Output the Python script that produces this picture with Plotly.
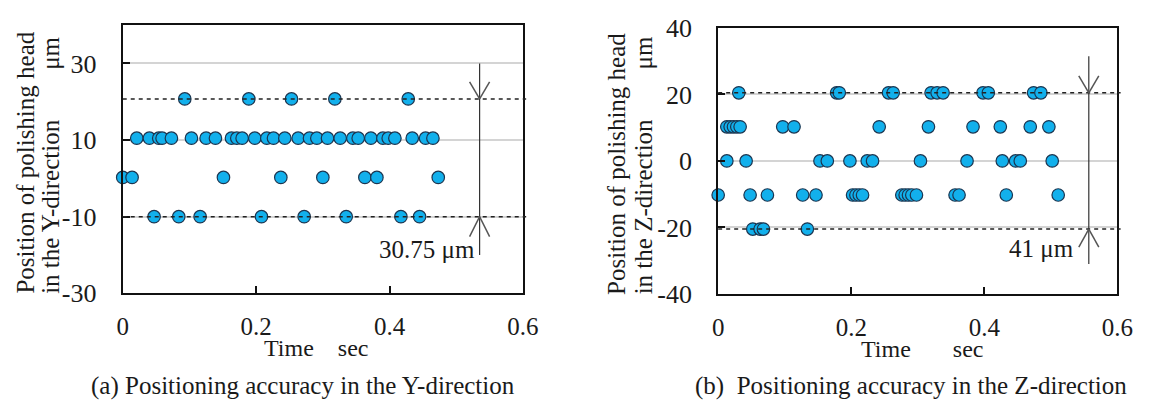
import plotly.graph_objects as go

W, H = 1155, 419

# ---------------- data ----------------
# (a) Y-direction
time_y = [0.000, 0.014, 0.021, 0.040, 0.047, 0.054, 0.059, 0.073, 0.084, 0.093,
          0.103, 0.116, 0.125, 0.139, 0.151, 0.163, 0.171, 0.179, 0.189, 0.198,
          0.208, 0.216, 0.226, 0.237, 0.243, 0.253, 0.263, 0.272, 0.280, 0.291,
          0.300, 0.307, 0.318, 0.326, 0.335, 0.345, 0.353, 0.363, 0.372, 0.381,
          0.390, 0.398, 0.408, 0.417, 0.428, 0.434, 0.445, 0.454, 0.465, 0.473]
pos_y = [0.25, 0.25, 10.5, 10.5, -10, 10.5, 10.5, 10.5, -10, 20.75,
         10.5, -10, 10.5, 10.5, 0.25, 10.5, 10.5, 10.5, 20.75, 10.5,
         -10, 10.5, 10.5, 0.25, 10.5, 20.75, 10.5, -10, 10.5, 10.5,
         0.25, 10.5, 20.75, 10.5, -10, 10.5, 10.5, 0.25, 10.5, 0.25,
         10.5, 10.5, 10.5, -10, 20.75, 10.5, -10, 10.5, 10.5, 0.25]

# (b) Z-direction
time_z = [0.000, 0.013, 0.013, 0.018, 0.023, 0.028, 0.031, 0.033, 0.042, 0.048,
          0.052, 0.063, 0.068, 0.074, 0.097, 0.114, 0.127, 0.134, 0.147, 0.153,
          0.164, 0.178, 0.182, 0.198, 0.202, 0.207, 0.212, 0.217, 0.224, 0.232,
          0.242, 0.256, 0.263, 0.276, 0.281, 0.286, 0.291, 0.298, 0.304, 0.316,
          0.320, 0.329, 0.338, 0.356, 0.362, 0.374, 0.383, 0.398, 0.406, 0.424,
          0.427, 0.433, 0.447, 0.454, 0.469, 0.474, 0.485, 0.497, 0.502, 0.511]
pos_z = [-10.25, 10.25, 0, 10.25, 10.25, 10.25, 20.5, 10.25, 0, -10.25,
         -20.5, -20.5, -20.5, -10.25, 10.25, 10.25, -10.25, -20.5, -10.25, 0,
         0, 20.5, 20.5, 0, -10.25, -10.25, -10.25, -10.25, 0, 0,
         10.25, 20.5, 20.5, -10.25, -10.25, -10.25, -10.25, -10.25, 0, 10.25,
         20.5, 20.5, 20.5, -10.25, -10.25, 0, 10.25, 20.5, 20.5, 10.25,
         0, -10.25, 0, 0, 10.25, 20.5, 20.5, 10.25, 0, -10.25]

# axes
x_ticks = [0, 0.2, 0.4, 0.6]
x_ticktext = ["0", "0.2", "0.4", "0.6"]
y_ticks_a = [-30, -10, 10, 30]
y_ticktext_a = ["-30", "-10", "10", "30"]
y_ticks_b = [-40, -20, 0, 20, 40]
y_ticktext_b = ["-40", "-20", "0", "20", "40"]

# range bands (dashed limits) and arrow placement
band_a = [-10, 20.75]
band_b = [-20.5, 20.5]
arrow_x_a, arrow_span_a = 0.535, [30, -20]
arrow_x_b, arrow_span_b = 0.557, [31.5, -31]
label_a = "30.75 μm"
label_b = "41 μm"

# ---------------- style ----------------
FONT = "Liberation Serif, Times New Roman, serif"
TXT = "#1a1a1a"
FILL = "#12B0EC"
EDGE = "#1B3550"

fig = go.Figure()
for t, p, xa, ya in [(time_y, pos_y, "x", "y"), (time_z, pos_z, "x2", "y2")]:
    fig.add_trace(go.Scatter(
        x=t, y=p, mode="markers", xaxis=xa, yaxis=ya, showlegend=False,
        marker=dict(size=12.5, color=FILL, line=dict(color=EDGE, width=1.2)),
        cliponaxis=False))

def px_x(p):
    return p / W

def px_y(p):
    return 1 - p / H

def axis_common(fs):
    return dict(
        showline=True, mirror=True, linecolor="#111", linewidth=2,
        ticks="inside", ticklen=7, tickwidth=2, tickcolor="#111",
        tickfont=dict(family=FONT, size=fs, color=TXT),
        zeroline=False,
    )

fig.update_layout(
    width=W, height=H, autosize=False,
    margin=dict(l=0, r=0, t=0, b=0),
    paper_bgcolor="white", plot_bgcolor="white",
    font=dict(family=FONT, color=TXT),
    xaxis=dict(domain=[px_x(119), px_x(527)], range=[0, 0.6], anchor="y",
               tickvals=x_ticks, ticktext=x_ticktext, showgrid=False,
               ticklabelstandoff=10, **axis_common(25)),
    yaxis=dict(domain=[px_y(300), px_y(12)], range=[-30, 40], anchor="x",
               tickvals=y_ticks_a, ticktext=y_ticktext_a, showgrid=True,
               gridcolor="#d4d4d4", gridwidth=1.5, ticklabelstandoff=19, **axis_common(26)),
    xaxis2=dict(domain=[px_x(726), px_x(1133)], range=[0, 0.6], anchor="y2",
                tickvals=x_ticks, ticktext=x_ticktext, showgrid=False,
                ticklabelstandoff=10, **axis_common(25)),
    yaxis2=dict(domain=[px_y(300.7), px_y(15)], range=[-40, 40], anchor="x2",
                tickvals=y_ticks_b, ticktext=y_ticktext_b, showgrid=True,
                gridcolor="#d4d4d4", gridwidth=1.5, ticklabelstandoff=19, **axis_common(26)),
)

shapes = []
# dashed limit lines
for band, xr, yr in [(band_a, "x domain", "y"), (band_b, "x2 domain", "y2")]:
    for lev in band:
        shapes.append(dict(type="line", xref=xr, yref=yr, x0=0, x1=1.008, y0=lev, y1=lev,
                           line=dict(color="#222", width=1.5, dash="4px,4px"), layer="above"))

# measuring arrows
def arrow(ax, ay, xv, span, band, up_len, down_len):
    out = [dict(type="line", xref=ax, yref=ay, x0=xv, x1=xv, y0=span[0], y1=span[1],
                line=dict(color="#333", width=1.2))]
    top, bot = max(band), min(band)
    for sx in (-10, 10):
        out.append(dict(type="line", xref=ax, yref=ay, xsizemode="pixel", ysizemode="pixel",
                        xanchor=xv, yanchor=top, x0=sx, x1=0, y0=up_len, y1=0,
                        line=dict(color="#555", width=1.5)))
        out.append(dict(type="line", xref=ax, yref=ay, xsizemode="pixel", ysizemode="pixel",
                        xanchor=xv, yanchor=bot, x0=sx, x1=0, y0=-down_len, y1=0,
                        line=dict(color="#555", width=1.5)))
    return out

shapes += arrow("x", "y", arrow_x_a, arrow_span_a, band_a, 17, 20)
shapes += arrow("x2", "y2", arrow_x_b, arrow_span_b, band_b, 17, 18)
fig.update_layout(shapes=shapes)

ann = []
# range labels
ann.append(dict(x=0.531, y=-18.6, xref="x", yref="y", text=label_a, showarrow=False,
                xanchor="right", yanchor="middle", font=dict(family=FONT, size=25, color=TXT)))
ann.append(dict(x=0.537, y=-26.2, xref="x2", yref="y2", text=label_b, showarrow=False,
                xanchor="right", yanchor="middle", font=dict(family=FONT, size=25, color=TXT)))

sp = "\u00a0" * 8
ytitles = [
    (20, 160, "Position of polishing head"),
    (46, 163, "in the Y-direction" + sp + "μm"),
    (623, 161, "Position of polishing head"),
    (650, 163, "in the Z-direction" + sp + "μm"),
]
for xp, yp, t in ytitles:
    ann.append(dict(x=px_x(xp), y=px_y(yp), xref="paper", yref="paper", text=t,
                    textangle=-90, showarrow=False, xanchor="center", yanchor="middle",
                    font=dict(family=FONT, size=25, color=TXT)))

xtitles = [
    (316, 359, "Time" + "\u00a0" * 4 + "sec", 24),
    (934, 360, "Time" + "\u00a0" * 7 + "sec", 24),
]
for xp, yp, t, fs in xtitles:
    ann.append(dict(x=px_x(xp), y=px_y(yp), xref="paper", yref="paper", text=t,
                    showarrow=False, xanchor="center", yanchor="middle",
                    font=dict(family=FONT, size=fs, color=TXT)))

captions = [
    (303, 400, "(a) Positioning accuracy in the Y-direction"),
    (923, 400, "(b)\u00a0 Positioning accuracy in the Z-direction"),
]
for xp, yp, t in captions:
    ann.append(dict(x=px_x(xp), y=px_y(yp), xref="paper", yref="paper", text=t,
                    showarrow=False, xanchor="center", yanchor="middle",
                    font=dict(family=FONT, size=25, color=TXT)))

fig.update_layout(annotations=ann)
fig.write_html("out.html")
